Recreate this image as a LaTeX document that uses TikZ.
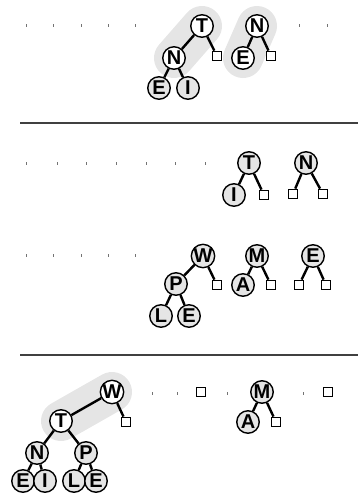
\documentclass[tikz,border=0pt]{standalone}
\usepackage{fontspec}
\setmainfont{Liberation Sans}
\usetikzlibrary{backgrounds}
\newcommand{\lbl}[1]{\fontsize{20}{20}\selectfont\bfseries #1}
\tikzset{
 wn/.style={circle, draw, line width=1.4pt, fill=white, minimum size=22.5pt, inner sep=0pt},
 gn/.style={wn, fill=gray!20},
 sq/.style={rectangle, draw, line width=1.3pt, fill=white, minimum size=9.5pt, inner sep=0pt},
 tk/.style={rectangle, fill=black!55, minimum width=1pt, minimum height=3pt, inner sep=0pt},
 ed/.style={line width=2.4pt},
 hl/.style={line width=1.3pt, draw=black!75},
 sh/.style={line width=40pt, line cap=round, draw=gray!20}
}
\begin{document}
\begin{tikzpicture}[x=1pt,y=-1pt]
\useasboundingbox (0,0) rectangle (360,496);
% section 1
\foreach \x [count=\i] in {26,53,81,108,135,299,327} \node[tk] (ta\i) at (\x,25) {};
\node[wn] (T1) at (202,26) {\lbl{T}};
\node[wn] (N1) at (174,58) {\lbl{N}};
\node[gn] (E1) at (159,88) {\lbl{E}};
\node[gn] (I1) at (188,88) {\lbl{I}};
\node[sq] (s1) at (217,56) {};
\node[wn] (N2) at (257,26) {\lbl{N}};
\node[wn] (E2) at (243,58) {\lbl{E}};
\node[sq] (s2) at (271,56) {};
\coordinate (l1a) at (20,123);
\coordinate (l1b) at (358,123);
\draw[hl] (l1a) -- (l1b);
% section 2 row 1
\foreach \x [count=\i] in {26,57,86,116,146,175,205} \node[tk] (tb\i) at (\x,163) {};
\node[gn] (T3) at (249,163) {\lbl{T}};
\node[gn] (I3) at (234,195) {\lbl{I}};
\node[sq] (s3) at (264,195) {};
\node[gn] (N3) at (306,163) {\lbl{N}};
\node[sq] (s4) at (293,194) {};
\node[sq] (s5) at (323,194) {};
% section 2 row 2
\foreach \x [count=\i] in {26,53,81,108,135} \node[tk] (tc\i) at (\x,255) {};
\node[gn] (W4) at (203,256) {\lbl{W}};
\node[gn] (P4) at (176,284) {\lbl{P}};
\node[gn] (L4) at (161,316) {\lbl{L}};
\node[gn] (E4) at (189,316) {\lbl{E}};
\node[sq] (s6) at (217,285) {};
\node[gn] (M4) at (257,256) {\lbl{M}};
\node[gn] (A4) at (243,285) {\lbl{A}};
\node[sq] (s7) at (271,285) {};
\node[gn] (E5) at (313,256) {\lbl{E}};
\node[sq] (s8) at (299,285) {};
\node[sq] (s9) at (326,285) {};
\coordinate (l2a) at (20,355);
\coordinate (l2b) at (358,355);
\draw[hl] (l2a) -- (l2b);
% section 3
\node[wn] (W6) at (112,392) {\lbl{W}};
\node[wn] (T6) at (61,421) {\lbl{T}};
\node[sq] (s10) at (126,422) {};
\node[gn] (N6) at (37,453) {\lbl{N}};
\node[gn] (P6) at (86,453) {\lbl{P}};
\node[gn] (E6) at (23,481) {\lbl{E}};
\node[gn] (I6) at (45,481) {\lbl{I}};
\node[gn] (L6) at (74,481) {\lbl{L}};
\node[gn] (E7) at (96,481) {\lbl{E}};
\foreach \x [count=\i] in {152,177,227,303} \node[tk] (td\i) at (\x,393) {};
\node[sq] (s11) at (201,392) {};
\node[sq] (s12) at (328,392) {};
\node[gn] (M6) at (262,392) {\lbl{M}};
\node[gn] (A6) at (248,422) {\lbl{A}};
\node[sq] (s13) at (276,422) {};
% shading
\begin{scope}[on background layer]
\draw[sh] (T1.center) -- (N1.center);
\draw[sh] (N2.center) -- (E2.center);
\draw[sh] (W6.center) -- (T6.center);
\end{scope}
% edges
\draw[ed] (T1) -- (N1); \draw[ed] (T1) -- (s1);
\draw[ed] (N1) -- (E1); \draw[ed] (N1) -- (I1);
\draw[ed] (N2) -- (E2); \draw[ed] (N2) -- (s2);
\draw[ed] (T3) -- (I3); \draw[ed] (T3) -- (s3);
\draw[ed] (N3) -- (s4); \draw[ed] (N3) -- (s5);
\draw[ed] (W4) -- (P4); \draw[ed] (W4) -- (s6);
\draw[ed] (P4) -- (L4); \draw[ed] (P4) -- (E4);
\draw[ed] (M4) -- (A4); \draw[ed] (M4) -- (s7);
\draw[ed] (E5) -- (s8); \draw[ed] (E5) -- (s9);
\draw[ed] (W6) -- (T6); \draw[ed] (W6) -- (s10);
\draw[ed] (T6) -- (N6); \draw[ed] (T6) -- (P6);
\draw[ed] (N6) -- (E6); \draw[ed] (N6) -- (I6);
\draw[ed] (P6) -- (L6); \draw[ed] (P6) -- (E7);
\draw[ed] (M6) -- (A6); \draw[ed] (M6) -- (s13);
\end{tikzpicture}
\end{document}
